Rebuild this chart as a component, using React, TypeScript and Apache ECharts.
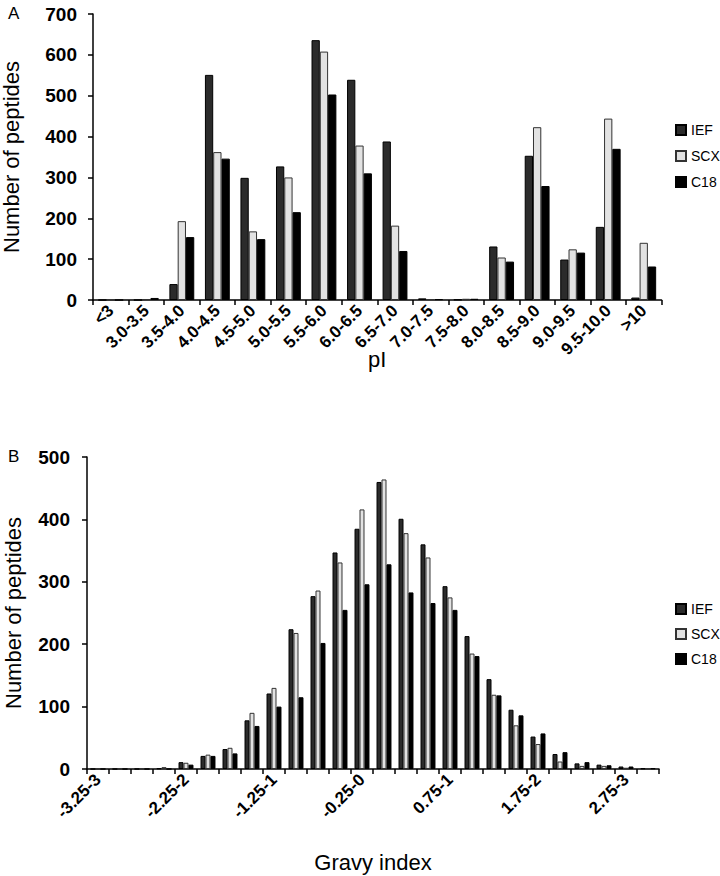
import React, { useEffect, useRef } from "react";
import * as echarts from "echarts";

const piCategories = ["<3", "3.0-3.5", "3.5-4.0", "4.0-4.5", "4.5-5.0", "5.0-5.5", "5.5-6.0", "6.0-6.5", "6.5-7.0", "7.0-7.5", "7.5-8.0", "8.0-8.5", "8.5-9.0", "9.0-9.5", "9.5-10.0", ">10"];
const piIEF = [0, 0, 39, 551, 299, 327, 636, 539, 388, 4, 1, 131, 353, 99, 179, 6];
const piSCX = [0, 2, 193, 362, 168, 300, 608, 378, 182, 2, 3, 104, 423, 124, 444, 140];
const piC18 = [0, 5, 154, 346, 149, 215, 503, 310, 120, 2, 3, 94, 279, 116, 370, 82];

const gravyCategories = ["-3.25-3", "-3-2.75", "-2.75-2.5", "-2.5-2.25", "-2.25-2", "-2-1.75", "-1.75-1.5", "-1.5-1.25", "-1.25-1", "-1-0.75", "-0.75-0.5", "-0.5-0.25", "-0.25-0", "0-0.25", "0.25-0.5", "0.5-0.75", "0.75-1", "1-1.25", "1.25-1.5", "1.5-1.75", "1.75-2", "2-2.25", "2.25-2.5", "2.5-2.75", "2.75-3", "3-3.25"];
const gravyIEF = [0, 0, 0, 1, 11, 21, 32, 78, 121, 224, 277, 347, 385, 460, 401, 360, 293, 213, 144, 95, 52, 24, 9, 7, 4, 1];
const gravySCX = [0, 0, 0, 3, 10, 23, 34, 90, 130, 218, 286, 331, 416, 464, 378, 339, 275, 185, 119, 70, 40, 12, 5, 5, 2, 1];
const gravyC18 = [0, 0, 0, 0, 7, 21, 25, 69, 100, 115, 202, 255, 296, 328, 283, 266, 255, 181, 118, 86, 57, 27, 11, 6, 4, 1];

const seriesNames = ["IEF", "SCX", "C18"];
const topTicks = [0, 700, 100];
const bottomTicks = [0, 500, 100];

const FONT = "Liberation Sans, Arial, sans-serif";

const styles = [
  { color: "#2b2b2b", borderColor: "#000", borderWidth: 1 },
  { color: "#e2e2e2", borderColor: "#333", borderWidth: 1 },
  { color: "#000", borderColor: "#000", borderWidth: 1 },
];

export default function App() {
  const ref = useRef<HTMLDivElement>(null);
  useEffect(() => {
    document.body.style.margin = "0";
    if (!ref.current) return;
    const chart = echarts.init(ref.current, null, { renderer: "svg" });
    const axisLine = { show: true, lineStyle: { color: "#000", width: 1.5 } };
    const axisTick = { show: true, length: 5, lineStyle: { color: "#000", width: 1.5 } };
    const yLabel = { color: "#000", fontFamily: FONT, fontWeight: "bold" as const, fontSize: 19 };
    const xLabel = { color: "#000", fontFamily: FONT, fontWeight: "bold" as const, fontSize: 17, rotate: 45 };
    const nameStyle = { color: "#000", fontFamily: FONT, fontSize: 22 };
    const topData = [piIEF, piSCX, piC18];
    const botData = [gravyIEF, gravySCX, gravyC18];
    const series: any[] = [];
    seriesNames.forEach((n, i) => {
      series.push({
        name: n, type: "bar", xAxisIndex: 0, yAxisIndex: 0, data: topData[i],
        barGap: "0%", barCategoryGap: "30%", itemStyle: styles[i],
      });
    });
    seriesNames.forEach((n, i) => {
      series.push({
        name: n, type: "bar", xAxisIndex: 1, yAxisIndex: 1, data: botData[i],
        barGap: "0%", barCategoryGap: "32%", itemStyle: styles[i],
      });
    });
    const legendBase = {
      orient: "vertical" as const,
      data: seriesNames,
      itemWidth: 10,
      itemHeight: 10,
      itemGap: 12,
      padding: 0,
      icon: "rect",
      textStyle: { color: "#000", fontFamily: FONT, fontSize: 14 },
      selectedMode: false,
    };
    chart.setOption({
      animation: false,
      title: [
        { text: "A", left: 3, top: 0, textStyle: { fontFamily: FONT, fontSize: 17, fontWeight: "normal", color: "#000" } },
        { text: "B", left: 3, top: 443, textStyle: { fontFamily: FONT, fontSize: 17, fontWeight: "normal", color: "#000" } },
      ],
      legend: [
        { ...legendBase, left: 675, top: 123 },
        { ...legendBase, left: 675, top: 602, itemGap: 11 },
      ],
      grid: [
        { left: 93, top: 14, width: 568.5, height: 286, outerBoundsMode: "none", containLabel: false },
        { left: 87, top: 457, width: 572, height: 312, outerBoundsMode: "none", containLabel: false },
      ],
      xAxis: [
        {
          type: "category", gridIndex: 0, data: piCategories,
          axisLine, axisTick: { ...axisTick, interval: 0 },
          axisLabel: { ...xLabel, interval: 0, margin: 8 },
          name: "pI", nameLocation: "middle", nameGap: 48, nameMoveOverlap: false, nameTextStyle: nameStyle,
        },
        {
          type: "category", gridIndex: 1, data: gravyCategories,
          axisLine, axisTick: { ...axisTick, interval: 0 },
          axisLabel: { ...xLabel, interval: 3, margin: 8 },
          name: "Gravy index", nameLocation: "middle", nameGap: 82, nameMoveOverlap: false, nameTextStyle: nameStyle,
        },
      ],
      yAxis: [
        {
          type: "value", gridIndex: 0, min: topTicks[0], max: topTicks[1], interval: topTicks[2],
          axisLine, axisTick, splitLine: { show: false },
          axisLabel: { ...yLabel, margin: 16 },
          name: "Number of peptides", nameLocation: "middle", nameGap: 71, nameMoveOverlap: false, nameTextStyle: nameStyle,
        },
        {
          type: "value", gridIndex: 1, min: bottomTicks[0], max: bottomTicks[1], interval: bottomTicks[2],
          axisLine, axisTick, splitLine: { show: false },
          axisLabel: { ...yLabel, margin: 17 },
          name: "Number of peptides", nameLocation: "middle", nameGap: 63, nameMoveOverlap: false, nameTextStyle: nameStyle,
        },
      ],
      series,
    });
    return () => chart.dispose();
  }, []);
  return <div ref={ref} style={{ width: 720, height: 876 }} />;
}
